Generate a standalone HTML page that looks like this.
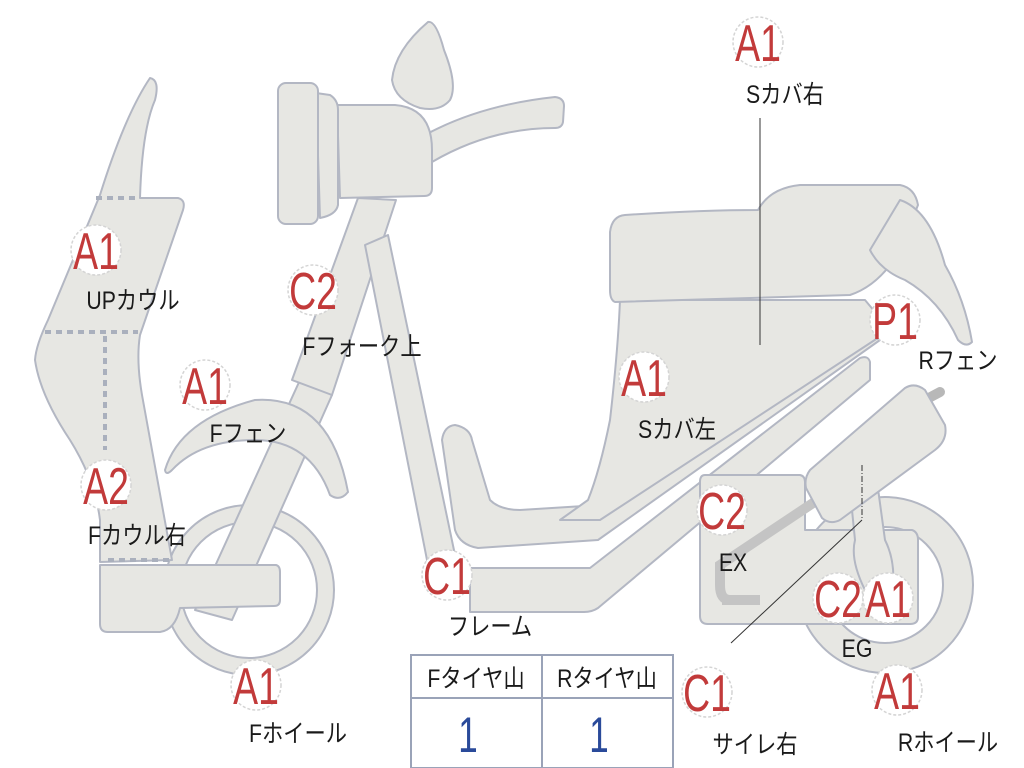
<!DOCTYPE html>
<html><head><meta charset="utf-8"><style>
html,body{margin:0;padding:0;background:#fff;width:1024px;height:768px;overflow:hidden}
svg{display:block}
.b{fill:#fff;stroke:#d4d4d4;stroke-width:1.5;stroke-dasharray:3 2}
.bt{fill:#c23a3a;font-family:"Liberation Sans",sans-serif;font-size:52px;text-anchor:middle}
.lb{fill:#1a1a1a;font-family:"Liberation Sans","Noto Sans CJK JP",sans-serif;font-size:25px;text-anchor:middle}
.p{fill:#e7e7e3;stroke:#b3b7c3;stroke-width:2;stroke-linejoin:round}
</style></head><body>
<svg width="1024" height="768" viewBox="0 0 1024 768" xmlns="http://www.w3.org/2000/svg">
<circle cx="885" cy="585" r="88" class="p"/>
<circle cx="885" cy="585" r="58" fill="#fff" stroke="#b3b7c3" stroke-width="2"/>
<circle cx="249" cy="590" r="85" class="p"/>
<circle cx="249" cy="590" r="68" fill="#fff" stroke="#b3b7c3" stroke-width="2"/>
<path class="p" d="M195,610 L300,380 L332,395 L232,620 Z"/>
<path class="p" d="M165,470 Q180,420 255,400 Q330,395 348,492 Q340,502 330,495 Q310,440 255,440 Q200,440 172,470 Q166,476 165,470 Z"/>
<path class="p" d="M150,78 Q160,80 155,100 Q142,130 140,198 L178,198 Q186,200 183,210 L140,335 Q136,360 142,395 L172,560 L100,562 L100,520 Q95,480 70,440 Q40,395 35,360 Q36,345 48,320 L100,195 Q125,115 150,78 Z"/>
<path class="p" d="M100,565 L276,565 Q280,566 280,572 L280,600 Q280,606 274,606 L180,608 Q175,630 160,632 L108,632 Q100,632 100,624 Z"/>
<g stroke="#aab0bd" stroke-width="4" stroke-dasharray="6 5" fill="none">
<line x1="96" y1="198" x2="140" y2="198"/>
<line x1="45" y1="332" x2="138" y2="332"/>
<line x1="105" y1="336" x2="105" y2="450"/>
<line x1="108" y1="560" x2="170" y2="560"/>
</g>
<path class="p" d="M292,380 L358,198 L396,200 L332,395 Z"/>
<path class="p" d="M365,245 L388,235 L455,555 L428,565 Z"/>
<path class="p" d="M425,135 Q480,105 555,97 Q564,98 564,106 L563,122 Q562,128 555,128 Q490,128 432,162 Z"/>
<path class="p" d="M428,22 Q436,20 444,50 Q458,85 450,100 Q440,112 420,108 Q395,100 392,80 Q395,50 428,22 Z"/>
<path class="p" d="M337,105 L395,105 Q432,108 432,150 L432,188 Q432,196 424,196 L340,198 Z"/>
<path class="p" d="M316,93 L330,95 Q338,100 338,110 L338,205 Q336,215 320,218 Z"/>
<rect class="p" x="278" y="83" width="40" height="141" rx="8"/>
<path class="p" d="M455,425 Q470,428 472,440 L490,500 Q500,510 520,510 L600,505 L860,330 L880,340 L598,540 L478,548 Q460,545 455,530 L442,440 Q444,426 455,425 Z"/>
<path class="p" d="M620,300 L865,300 L890,330 L600,520 L560,520 L588,500 Q600,470 610,420 Q618,350 620,300 Z"/>
<path class="p" d="M625,215 Q700,210 758,210 Q770,188 800,185 L900,185 Q915,188 918,205 L900,250 Q880,285 850,295 L615,302 Q610,300 610,290 L610,232 Q612,216 625,215 Z"/>
<path class="p" d="M900,200 Q930,210 945,265 Q965,300 972,342 Q966,348 958,340 Q940,300 905,280 Q880,270 870,250 Z"/>
<path class="p" d="M470,568 L590,568 L860,358 Q868,355 870,362 L870,380 L598,608 Q592,612 584,612 L470,612 Z"/>
<path class="p" d="M705,475 L800,475 Q805,476 805,482 L805,530 L912,530 Q918,532 918,540 L918,617 Q918,624 910,624 L708,624 Q700,624 700,616 L700,482 Q700,475 705,475 Z"/>
<path d="M730,600 Q720,600 720,585 L720,565 L825,495" fill="none" stroke="#c4c4c4" stroke-width="10"/>
<line x1="722" y1="600" x2="760" y2="600" stroke="#c4c4c4" stroke-width="10"/>
<path class="p" d="M845,440 L870,430 L885,540 Q895,560 893,585 L865,590 Q850,560 855,540 Z"/>
<path d="M925,400 L940,392" stroke="#b8b8b8" stroke-width="10" stroke-linecap="round"/>
<path class="p" d="M810,470 L905,388 Q915,382 925,390 L945,425 Q948,440 935,450 L840,520 Q830,525 822,518 L806,488 Q804,478 810,470 Z"/>
<line x1="760" y1="118" x2="760" y2="345" stroke="#333" stroke-width="1"/>
<line x1="862" y1="465" x2="862" y2="520" stroke="#333" stroke-width="1" stroke-dasharray="6 2 1 2"/>
<line x1="862" y1="520" x2="731" y2="643" stroke="#333" stroke-width="1"/>
<rect x="411" y="655" width="262" height="113" fill="#fff" stroke="#9aa3b8" stroke-width="2"/>
<line x1="411" y1="698" x2="673" y2="698" stroke="#9aa3b8" stroke-width="2"/>
<line x1="542" y1="655" x2="542" y2="768" stroke="#9aa3b8" stroke-width="2"/>
<g transform="translate(476,687) scale(0.85,1)"><text class="lb">Fタイヤ山</text></g>
<g transform="translate(607,687) scale(0.85,1)"><text class="lb">Rタイヤ山</text></g>
<g transform="translate(468,752) scale(0.7,1)"><text fill="#2a4a9a" font-family="Liberation Sans,sans-serif" font-size="50" text-anchor="middle">1</text></g>
<g transform="translate(599,752) scale(0.7,1)"><text fill="#2a4a9a" font-family="Liberation Sans,sans-serif" font-size="50" text-anchor="middle">1</text></g>
<!-- badges -->
<circle class="b" cx="758" cy="42" r="25"/><g transform="translate(758,61) scale(0.72,1)"><text class="bt">A1</text></g>
<circle class="b" cx="96" cy="250" r="25"/><g transform="translate(96,269) scale(0.72,1)"><text class="bt">A1</text></g>
<circle class="b" cx="313" cy="290" r="25"/><g transform="translate(313,309) scale(0.72,1)"><text class="bt">C2</text></g>
<circle class="b" cx="205" cy="385" r="25"/><g transform="translate(205,404) scale(0.72,1)"><text class="bt">A1</text></g>
<circle class="b" cx="106" cy="485" r="25"/><g transform="translate(106,504) scale(0.72,1)"><text class="bt">A2</text></g>
<circle class="b" cx="447" cy="575" r="25"/><g transform="translate(447,594) scale(0.72,1)"><text class="bt">C1</text></g>
<circle class="b" cx="644" cy="377" r="25"/><g transform="translate(644,396) scale(0.72,1)"><text class="bt">A1</text></g>
<circle class="b" cx="895" cy="320" r="25"/><g transform="translate(895,339) scale(0.72,1)"><text class="bt">P1</text></g>
<circle class="b" cx="722" cy="510" r="25"/><g transform="translate(722,529) scale(0.72,1)"><text class="bt">C2</text></g>
<circle class="b" cx="838" cy="598" r="25"/><g transform="translate(838,617) scale(0.72,1)"><text class="bt">C2</text></g>
<circle class="b" cx="888" cy="598" r="25"/><g transform="translate(888,617) scale(0.72,1)"><text class="bt">A1</text></g>
<circle class="b" cx="256" cy="685" r="25"/><g transform="translate(256,704) scale(0.72,1)"><text class="bt">A1</text></g>
<circle class="b" cx="707" cy="692" r="25"/><g transform="translate(707,711) scale(0.72,1)"><text class="bt">C1</text></g>
<circle class="b" cx="897" cy="690" r="25"/><g transform="translate(897,709) scale(0.72,1)"><text class="bt">A1</text></g>
<!-- labels -->
<g transform="translate(785,103) scale(0.85,1)"><text class="lb">Sカバ右</text></g>
<g transform="translate(133,309) scale(0.85,1)"><text class="lb">UPカウル</text></g>
<g transform="translate(362,355) scale(0.85,1)"><text class="lb">Fフォーク上</text></g>
<g transform="translate(248,442) scale(0.85,1)"><text class="lb">Fフェン</text></g>
<g transform="translate(137,544) scale(0.85,1)"><text class="lb">Fカウル右</text></g>
<g transform="translate(490,635) scale(0.85,1)"><text class="lb">フレーム</text></g>
<g transform="translate(677,438) scale(0.85,1)"><text class="lb">Sカバ左</text></g>
<g transform="translate(958,369) scale(0.85,1)"><text class="lb">Rフェン</text></g>
<g transform="translate(733,571) scale(0.85,1)"><text class="lb">EX</text></g>
<g transform="translate(857,657) scale(0.85,1)"><text class="lb">EG</text></g>
<g transform="translate(298,742) scale(0.85,1)"><text class="lb">Fホイール</text></g>
<g transform="translate(755,753) scale(0.85,1)"><text class="lb">サイレ右</text></g>
<g transform="translate(948,751) scale(0.85,1)"><text class="lb">Rホイール</text></g>
</svg>
</body></html>
